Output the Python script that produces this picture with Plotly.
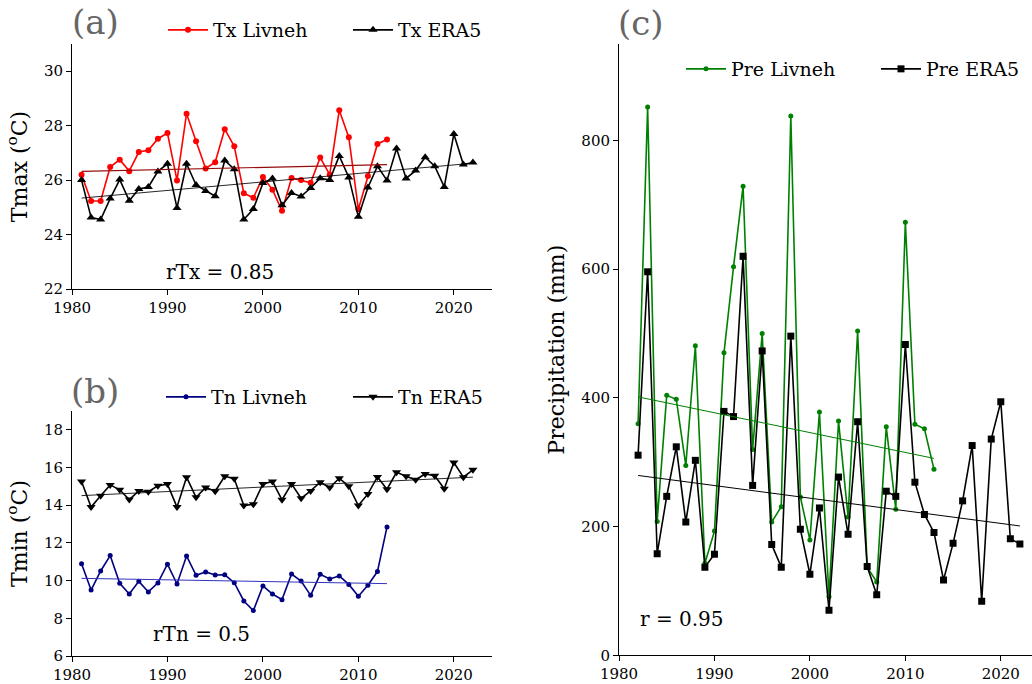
import plotly.graph_objects as go

# ---------------- data ----------------
years_liv = list(range(1981, 2014))
years_era = list(range(1981, 2023))
tx_livneh = [26.2, 25.23, 25.23, 26.48, 26.75, 26.33, 27.03, 27.1, 27.52, 27.73,
             25.99, 28.44, 27.43, 26.43, 26.66, 27.87, 27.24, 25.52, 25.35, 26.11,
             25.65, 24.87, 26.08, 26.0, 25.9, 26.83, 26.2, 28.57, 27.57, 24.93,
             26.15, 27.33, 27.49]
tx_era5 = [26.0, 24.63, 24.55, 25.32, 26.02, 25.24, 25.67, 25.75, 26.32, 26.6,
           24.98, 26.6, 25.82, 25.6, 25.41, 26.72, 26.4, 24.55, 24.94, 25.89,
           26.06, 25.08, 25.53, 25.4, 25.71, 26.07, 26.0, 26.89, 26.1, 24.65,
           25.73, 26.51, 25.99, 27.16, 26.06, 26.35, 26.84, 26.51, 25.75, 27.69,
           26.57, 26.65]
tn_livneh = [10.9, 9.5, 10.51, 11.33, 9.86, 9.29, 9.96, 9.4, 9.88, 10.87,
             9.82, 11.31, 10.28, 10.46, 10.3, 10.31, 9.89, 8.92, 8.41, 9.72,
             9.29, 8.99, 10.35, 9.98, 9.22, 10.34, 10.09, 10.25, 9.8, 9.17,
             9.75, 10.48, 12.85]
tn_era5 = [15.26, 13.9, 14.5, 15.08, 14.82, 14.3, 14.76, 14.72, 15.03, 15.12,
           13.9, 15.49, 14.42, 14.94, 14.74, 15.54, 15.4, 13.98, 14.05, 15.13,
           15.26, 14.29, 15.13, 14.37, 14.76, 15.22, 14.94, 15.43, 15.01, 13.98,
           14.6, 15.5, 14.85, 15.75, 15.54, 15.35, 15.66, 15.56, 14.87, 16.27,
           15.49, 15.88]
years_pre_liv = list(range(1982, 2014))
years_pre_era = list(range(1982, 2023))
pre_livneh = [360, 852, 208, 404, 398, 295, 481, 143, 193, 470,
              604, 729, 320, 500, 207, 231, 838, 246, 179, 378,
              91, 364, 215, 504, 137, 114, 355, 227, 673, 359,
              352, 289]
pre_era5 = [311, 596, 158, 247, 324, 207, 303, 137, 157, 379,
            371, 620, 264, 473, 172, 137, 496, 196, 126, 229,
            70, 277, 188, 363, 138, 94, 255, 247, 483, 269,
            219, 191, 117, 174, 240, 326, 84, 336, 394, 181,
            173]
# linear trend lines (start / end values)
trend_tx_livneh = [26.32, 26.57]
trend_tx_era5 = [25.34, 26.62]
trend_tn_livneh = [10.12, 9.84]
trend_tn_era5 = [14.51, 15.49]
trend_pre_livneh = [401.6, 306.0]
trend_pre_era5 = [279.5, 201.0]

x_ticks = [1980, 1990, 2000, 2010, 2020]
tmax_ticks = [22, 24, 26, 28, 30]
tmin_ticks = [6, 8, 10, 12, 14, 16, 18]
pre_ticks = [0, 200, 400, 600, 800]

W, H = 1032, 684
FONT = "DejaVu Serif"


def ends(years):
    return [years[0], years[-1]]


def px_x(p):
    return p / W


def px_y(p):
    return 1 - p / H


fig = go.Figure()

# ---- panel (a)
fig.add_trace(go.Scatter(x=years_liv, y=tx_livneh, mode="lines+markers", name="Tx Livneh",
                         line=dict(color="red", width=1.6), marker=dict(symbol="circle", size=6, color="red"),
                         xaxis="x", yaxis="y", legend="legend"))
fig.add_trace(go.Scatter(x=years_era, y=tx_era5, mode="lines+markers", name="Tx ERA5",
                         line=dict(color="black", width=1.6), marker=dict(symbol="triangle-up", size=8, color="black"),
                         xaxis="x", yaxis="y", legend="legend2"))
fig.add_trace(go.Scatter(x=ends(years_liv), y=trend_tx_livneh, mode="lines",
                         line=dict(color="rgb(150,10,10)", width=1.2),
                         showlegend=False, xaxis="x", yaxis="y"))
fig.add_trace(go.Scatter(x=ends(years_era), y=trend_tx_era5, mode="lines",
                         line=dict(color="rgba(0,0,0,0.85)", width=1),
                         showlegend=False, xaxis="x", yaxis="y"))

# ---- panel (b)
fig.add_trace(go.Scatter(x=years_liv, y=tn_livneh, mode="lines+markers", name="Tn Livneh",
                         line=dict(color="navy", width=1.6), marker=dict(symbol="circle", size=5, color="navy"),
                         xaxis="x2", yaxis="y2", legend="legend3"))
fig.add_trace(go.Scatter(x=years_era, y=tn_era5, mode="lines+markers", name="Tn ERA5",
                         line=dict(color="black", width=1.6), marker=dict(symbol="triangle-down", size=8, color="black"),
                         xaxis="x2", yaxis="y2", legend="legend4"))
fig.add_trace(go.Scatter(x=ends(years_liv), y=trend_tn_livneh, mode="lines",
                         line=dict(color="rgb(50,50,190)", width=1),
                         showlegend=False, xaxis="x2", yaxis="y2"))
fig.add_trace(go.Scatter(x=ends(years_era), y=trend_tn_era5, mode="lines",
                         line=dict(color="rgba(0,0,0,0.85)", width=1),
                         showlegend=False, xaxis="x2", yaxis="y2"))

# ---- panel (c)
fig.add_trace(go.Scatter(x=years_pre_liv, y=pre_livneh, mode="lines+markers", name="Pre Livneh",
                         line=dict(color="green", width=1.6), marker=dict(symbol="circle", size=5, color="green"),
                         xaxis="x3", yaxis="y3", legend="legend5"))
fig.add_trace(go.Scatter(x=years_pre_era, y=pre_era5, mode="lines+markers", name="Pre ERA5",
                         line=dict(color="black", width=1.6), marker=dict(symbol="square", size=7, color="black"),
                         xaxis="x3", yaxis="y3", legend="legend6"))
fig.add_trace(go.Scatter(x=ends(years_pre_liv), y=trend_pre_livneh, mode="lines",
                         line=dict(color="green", width=1),
                         showlegend=False, xaxis="x3", yaxis="y3"))
fig.add_trace(go.Scatter(x=ends(years_pre_era), y=trend_pre_era5, mode="lines",
                         line=dict(color="black", width=1),
                         showlegend=False, xaxis="x3", yaxis="y3"))

axis_common = dict(showline=True, linecolor="black", linewidth=1, ticks="outside", ticklen=5,
                   tickwidth=1, tickcolor="black", showgrid=False, zeroline=False, automargin=False,
                   tickfont=dict(family=FONT, size=15, color="black"))
title_font = dict(family=FONT, size=22, color="black")

leg_common = dict(orientation="h", bgcolor="rgba(0,0,0,0)", borderwidth=0,
                  font=dict(family=FONT, size=19, color="black"), yanchor="middle", xanchor="left",
                  itemwidth=40)

fig.update_layout(
    width=W, height=H, margin=dict(l=0, r=0, t=0, b=0, autoexpand=False),
    plot_bgcolor="white", paper_bgcolor="white",
    xaxis=dict(domain=[px_x(72), px_x(492)], range=[1980, 2024], tickvals=x_ticks, anchor="y", **axis_common),
    yaxis=dict(domain=[px_y(289), px_y(44)], range=[22, 31], tickvals=tmax_ticks, anchor="x",
               title=dict(text="Tmax (<sup>o</sup>C)", font=title_font, standoff=10), **axis_common),
    xaxis2=dict(domain=[px_x(72), px_x(492)], range=[1980, 2024], tickvals=x_ticks, anchor="y2", **axis_common),
    yaxis2=dict(domain=[px_y(656), px_y(411)], range=[6, 19], tickvals=tmin_ticks, anchor="x2",
                title=dict(text="Tmin (<sup>o</sup>C)", font=title_font, standoff=10), **axis_common),
    xaxis3=dict(domain=[px_x(619), 1.0], range=[1980, 1980 + 413 / 9.545], tickvals=x_ticks, anchor="y3",
                **axis_common),
    yaxis3=dict(domain=[px_y(655.3), px_y(44)], range=[0, 950], tickvals=pre_ticks, anchor="x3",
                title=dict(text="Precipitation (mm)", font=title_font, standoff=10), **axis_common),
    legend=dict(x=px_x(163), y=px_y(30), **leg_common),
    legend2=dict(x=px_x(348), y=px_y(30), **leg_common),
    legend3=dict(x=px_x(161), y=px_y(397), **leg_common),
    legend4=dict(x=px_x(348), y=px_y(397), **leg_common),
    legend5=dict(x=px_x(681), y=px_y(69), **leg_common),
    legend6=dict(x=px_x(876), y=px_y(69), **leg_common),
)

lab_font = dict(family=FONT, size=34, color="#666666")
txt_font = dict(family=FONT, size=20, color="black")
annos = [
    dict(text="(a)", x=px_x(95), y=px_y(22), font=lab_font),
    dict(text="(b)", x=px_x(95), y=px_y(391), font=lab_font),
    dict(text="(c)", x=px_x(641), y=px_y(23), font=lab_font),
    dict(text="rTx = 0.85", x=px_x(220), y=px_y(272), font=txt_font),
    dict(text="rTn = 0.5", x=px_x(201), y=px_y(634), font=txt_font),
    dict(text="r = 0.95", x=px_x(682), y=px_y(619), font=txt_font),
]
for a in annos:
    fig.add_annotation(xref="paper", yref="paper", showarrow=False, xanchor="center", yanchor="middle", **a)

fig.write_html("out.html")
